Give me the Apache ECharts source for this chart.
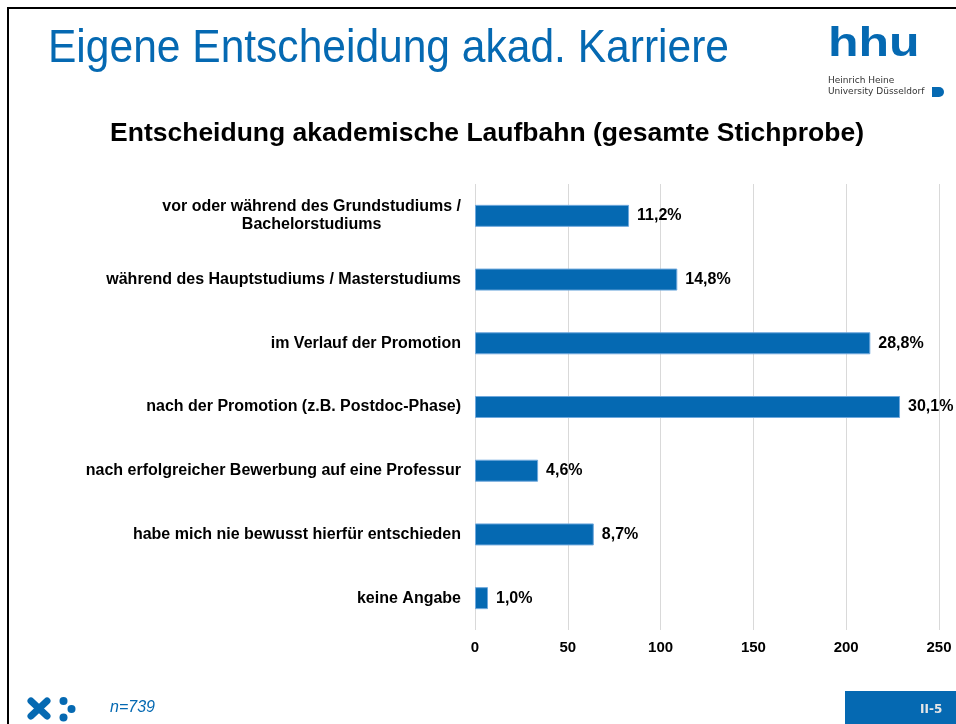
<!DOCTYPE html>
<html>
<head>
<meta charset="utf-8">
<script src="https://cdn.jsdelivr.net/npm/echarts@6/dist/echarts.min.js"></script>
<style>
    html, body { margin: 0; padding: 0; background: #fff; }
    #chart { width: 956px; height: 724px; }
</style>
</head>
<body>
<div id="chart"></div>
<script>
    // Antworten, Anzahl (Balken) und Anteil (Beschriftung)
    var categories = [
        'vor oder während des Grundstudiums /\nBachelorstudiums',
        'während des Hauptstudiums / Masterstudiums',
        'im Verlauf der Promotion',
        'nach der Promotion (z.B. Postdoc-Phase)',
        'nach erfolgreicher Bewerbung auf eine Professur',
        'habe mich nie bewusst hierfür entschieden',
        'keine Angabe'
    ];
    var counts = [83, 109, 213, 229, 34, 64, 7];
    var percents = ['11,2%', '14,8%', '28,8%', '30,1%', '4,6%', '8,7%', '1,0%'];
    var xTicks = [0, 50, 100, 150, 200, 250];

    var BLUE = '#0569B2';
    var FONT = 'Liberation Sans, Arial, sans-serif';

    var myChart = echarts.init(document.getElementById('chart'));

    var option = {
        backgroundColor: '#ffffff',
        textStyle: { fontFamily: FONT },
        grid: {
            left: 475,
            right: 17,
            top: 184,
            bottom: 94,
            containLabel: false
        },
        xAxis: {
            type: 'value',
            min: xTicks[0],
            max: xTicks[xTicks.length - 1],
            interval: 50,
            axisLine: { show: false },
            axisTick: { show: false },
            splitLine: { lineStyle: { color: '#d9d9d9', width: 1 } },
            axisLabel: {
                margin: 10,
                color: '#000',
                fontSize: 15,
                fontWeight: 'bold',
                fontFamily: FONT
            }
        },
        yAxis: {
            type: 'category',
            data: categories,
            inverse: true,
            axisLine: { show: false },
            axisTick: { show: false },
            axisLabel: {
                margin: 14,
                color: '#000',
                fontSize: 16,
                fontWeight: 'bold',
                fontFamily: FONT,
                lineHeight: 18,
                formatter: function (val) {
                    // mehrzeilige Beschriftung zentriert
                    return val.split('\n').map(function (s) { return '{c|' + s + '}'; }).join('\n');
                },
                rich: {
                    c: {
                        align: 'center',
                        color: '#000',
                        fontSize: 16,
                        fontWeight: 'bold',
                        fontFamily: FONT,
                        lineHeight: 18
                    }
                }
            }
        },
        series: [
            {
                type: 'bar',
                data: counts,
                barWidth: 22,
                itemStyle: {
                    color: BLUE,
                    borderColor: '#6FA8DC',
                    borderWidth: 1
                },
                label: {
                    show: true,
                    position: 'right',
                    distance: 8,
                    color: '#000',
                    fontSize: 16,
                    fontWeight: 'bold',
                    fontFamily: FONT,
                    formatter: function (p) { return percents[p.dataIndex]; }
                }
            }
        ],
        graphic: [
            // Folienrahmen
            { type: 'line', shape: { x1: 8, y1: 8, x2: 956, y2: 8 }, style: { stroke: '#000', lineWidth: 2 } },
            { type: 'line', shape: { x1: 8, y1: 7, x2: 8, y2: 724 }, style: { stroke: '#000', lineWidth: 2 } },
            // Folientitel
            {
                type: 'text', x: 48, y: 49, scaleX: 0.905,
                style: { text: 'Eigene Entscheidung akad. Karriere', fill: BLUE, fontSize: 47, fontFamily: FONT, verticalAlign: 'middle' }
            },
            // hhu Logo
            {
                type: 'text', x: 828, y: 25, scaleX: 1.25,
                style: { text: 'hhu', fill: BLUE, fontSize: 40, fontWeight: 'bold', fontFamily: FONT }
            },
            {
                type: 'text', x: 828, y: 75,
                style: { text: 'Heinrich Heine\nUniversity Düsseldorf', fill: '#333', fontSize: 9, lineHeight: 11, fontFamily: 'DejaVu Sans, sans-serif' }
            },
            {
                type: 'rect', shape: { x: 932, y: 87, width: 12, height: 10, r: [0, 5, 5, 0] },
                style: { fill: BLUE }
            },
            // Diagrammtitel
            {
                type: 'text', x: 487, y: 134,
                style: { text: 'Entscheidung akademische Laufbahn (gesamte Stichprobe)', fill: '#000', fontSize: 26.5, fontWeight: 'bold', fontFamily: FONT, align: 'center', verticalAlign: 'middle' }
            },
            // Logo unten links
            { type: 'line', shape: { x1: 31, y1: 701, x2: 47, y2: 716 }, style: { stroke: BLUE, lineWidth: 7, lineCap: 'round' } },
            { type: 'line', shape: { x1: 47, y1: 701, x2: 31, y2: 716 }, style: { stroke: BLUE, lineWidth: 7, lineCap: 'round' } },
            { type: 'circle', shape: { cx: 63.5, cy: 701, r: 4 }, style: { fill: BLUE } },
            { type: 'circle', shape: { cx: 71.5, cy: 709, r: 4 }, style: { fill: BLUE } },
            { type: 'circle', shape: { cx: 63.5, cy: 717.5, r: 4 }, style: { fill: BLUE } },
            {
                type: 'text', x: 110, y: 708,
                style: { text: 'n=739', fill: BLUE, fontSize: 16, fontStyle: 'italic', fontFamily: FONT, verticalAlign: 'middle' }
            },
            // Seitenzahl
            { type: 'rect', shape: { x: 845, y: 691, width: 111, height: 33 }, style: { fill: BLUE } },
            {
                type: 'text', x: 920, y: 710,
                style: { text: 'II-5', fill: '#e6e6e6', fontSize: 12, fontWeight: 'bold', fontFamily: 'DejaVu Sans, sans-serif', verticalAlign: 'middle' }
            }
        ]
    };

    myChart.setOption(option);
</script>
</body>
</html>
